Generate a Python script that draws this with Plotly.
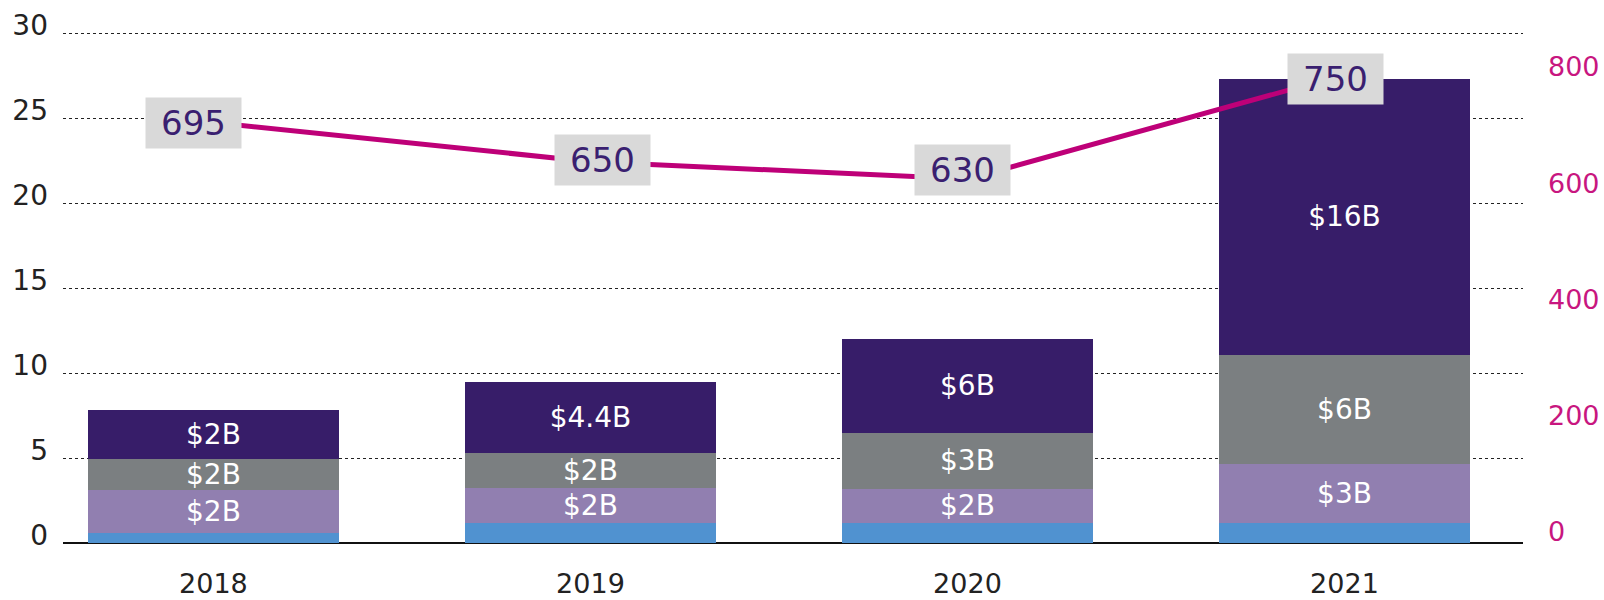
import plotly.graph_objects as go

years = ["2018", "2019", "2020", "2021"]
seg_blue = [0.6, 1.2, 1.2, 1.2]
seg_lilac = [2.5, 2.05, 2.0, 3.45]
seg_gray = [1.85, 2.05, 3.3, 6.4]
seg_dark = [2.9, 4.2, 5.5, 16.3]
lbl_lilac = ["$2B", "$2B", "$2B", "$3B"]
lbl_gray = ["$2B", "$2B", "$3B", "$6B"]
lbl_dark = ["$2B", "$4.4B", "$6B", "$16B"]
line_vals = [695, 650, 630, 750]
line_lbl_shift = [(-20, 0), (12, 2), (-5, 9), (-9, -4)]

FONT = "DejaVu Sans"
MAG = "#be0078"

fig = go.Figure()
for vals, lbls, col in [
    (seg_blue, None, "#5092d0"),
    (seg_lilac, lbl_lilac, "#917fb0"),
    (seg_gray, lbl_gray, "#7b7f81"),
    (seg_dark, lbl_dark, "#371d69"),
]:
    fig.add_trace(go.Bar(
        x=years, y=vals, marker=dict(color=col, line=dict(width=0)),
        text=lbls, textposition="inside" if lbls else "none",
        insidetextanchor="middle", textangle=0,
        textfont=dict(family=FONT, size=28, color="white"),
        hoverinfo="skip", showlegend=False,
    ))

# right-hand axis carrier (transparent) so the secondary axis is drawn
fig.add_trace(go.Scatter(
    x=years, y=line_vals, yaxis="y2", mode="lines",
    line=dict(color="rgba(0,0,0,0)", width=0), showlegend=False,
    hoverinfo="skip",
))

fig.add_trace(go.Scatter(
    x=years, y=line_vals, yaxis="y3", mode="lines",
    line=dict(color=MAG, width=5), showlegend=False, hoverinfo="skip",
))

for i, (v, (dx, dy)) in enumerate(zip(line_vals, line_lbl_shift)):
    fig.add_annotation(
        x=i, y=v, xref="x", yref="y3", text=str(v), showarrow=False,
        font=dict(family=FONT, size=34, color="#3a1f70"),
        bgcolor="#d9d9d9", width=93, height=48, xshift=dx, yshift=dy,
    )

fig.update_layout(
    width=1604, height=600,
    margin=dict(l=63, r=81, t=25, b=57),
    paper_bgcolor="white", plot_bgcolor="white",
    barmode="stack", bargap=0.332,
    uniformtext=dict(minsize=28, mode="show"),
    xaxis=dict(
        type="category", range=[-0.399, 3.4735], showgrid=False,
        showline=False, ticks="", ticklabelstandoff=22, automargin=False,
        tickfont=dict(family=FONT, size=27, color="#222"),
    ),
    yaxis=dict(
        range=[0, 30.5], tick0=0, dtick=5, showgrid=True, gridcolor="#222",
        griddash="dot", gridwidth=1, zeroline=True, zerolinecolor="#111",
        zerolinewidth=2, showline=False, ticks="", automargin=False,
        ticklabelstandoff=14, ticklabelshift=-8,
        tickfont=dict(family=FONT, size=28, color="#222"),
    ),
    yaxis2=dict(
        overlaying="y", side="right", range=[-19.4, 872], dtick=200,
        tick0=0, showgrid=False, zeroline=False, showline=False, ticks="",
        ticklabelstandoff=24, automargin=False,
        tickfont=dict(family=FONT, size=27, color="#c8167f"),
    ),
    yaxis3=dict(overlaying="y", range=[212, 807], visible=False),
)

fig.write_html(
    "out.html",
    config={"displayModeBar": False},
    post_script="document.body.style.margin='0';document.body.style.overflow='hidden';",
)
